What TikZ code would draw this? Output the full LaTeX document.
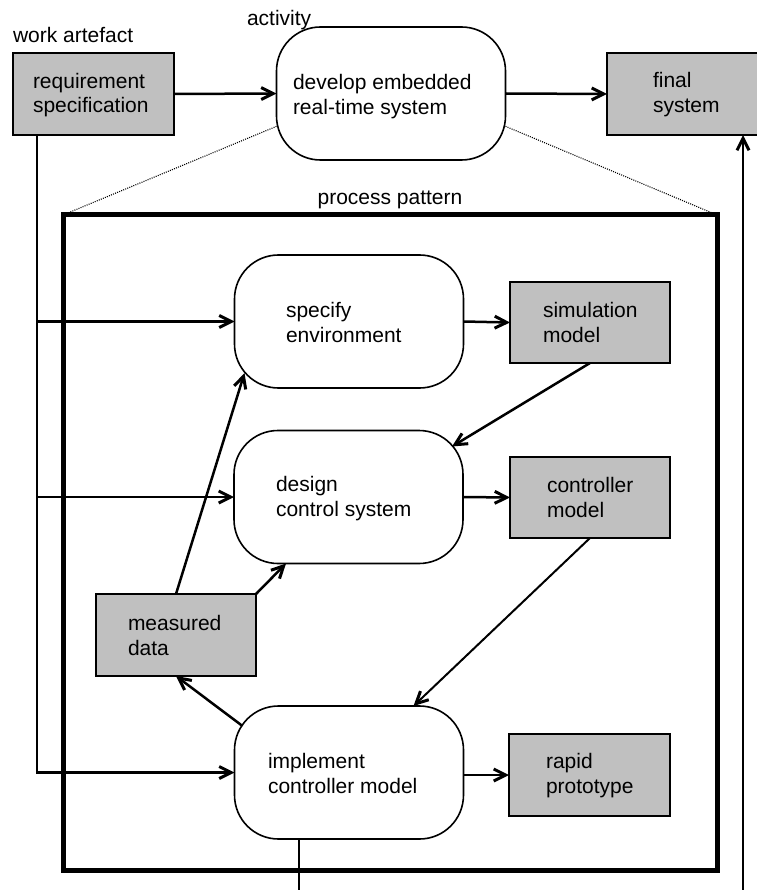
\documentclass[tikz,border=0pt]{standalone}
\usepackage{fontspec}
\setmainfont{Liberation Sans}
\usetikzlibrary{arrows.meta,calc}
\definecolor{boxgray}{RGB}{192,192,192}

\begin{document}
\begin{tikzpicture}[x=1pt,y=-1pt,
  every node/.style={font=\fontsize{21}{24.5}\selectfont, inner sep=0pt, outer sep=0pt},
  artefact/.style={draw, line width=1.6pt, fill=boxgray, minimum width=161pt, minimum height=82pt},
  activity/.style={draw, line width=1.6pt, fill=white, rounded corners=44pt,
                   minimum width=229pt, minimum height=133pt},
  txt/.style={anchor=west, align=left},
  flow/.style={line width=2.5pt, -{Straight Barb[length=12pt,width=12pt,line width=3pt]}},
  plain/.style={line width=2.2pt},
  zoomline/.style={line width=1.1pt, dash pattern=on 1pt off 1.2pt},
  framebox/.style={draw, line width=5pt, minimum width=654pt, minimum height=655pt}
]
\useasboundingbox (0,0) rectangle (756,890);

% overview level
\node[artefact] (req) at (93.5,94) {};
\node[txt] (reqT) at (33,95) {requirement\\specification};
\node[activity] (dev) at (391,93.5) {};
\node[txt] (devT) at (293,96.5) {develop embedded\\real-time system};
\node[artefact, minimum width=153pt] (fin) at (683.5,94) {};
\node[txt] (finT) at (653,94.5) {final\\system};

\node[anchor=west] (artLbl) at (13,35) {work artefact};
\node[anchor=west] (actLbl) at (247,20) {activity};

% refinement frame
\node[framebox] (frame) at (390,542.5) {};
\node (patLbl) at (390,200) {process pattern};
\draw[zoomline] (dev.196) -- (frame.north west);
\draw[zoomline] (dev.-16) -- (frame.north east);

% activities and artefacts inside the pattern
\node[activity] (spec) at (349,321.5) {};
\node[txt] (specT) at (286,322.5) {specify\\environment};
\node[artefact, minimum width=160pt, minimum height=81pt] (sim) at (590,322.5) {};
\node[txt] (simT) at (543,322.5) {simulation\\model};

\node[activity] (des) at (348.5,497) {};
\node[txt] (desT) at (276,498.5) {design\\control system};
\node[artefact, minimum width=160pt, minimum height=81pt] (ctl) at (590,497.5) {};
\node[txt] (ctlT) at (547,497.5) {controller\\model};

\node[artefact, minimum width=160pt] (meas) at (176,635) {};
\node[txt] (measT) at (128,635.5) {measured\\data};

\node[activity] (impl) at (349,772.5) {};
\node[txt] (implT) at (268,773.5) {implement\\controller model};
\node[artefact] (rap) at (589.5,775) {};
\node[txt] (rapT) at (546,775.5) {rapid\\prototype};

% top-level flow
\draw[flow] (req.east) -- (dev.west);
\draw[flow] (dev.east) -- (fin.west);

% requirement specification feeds every activity
\coordinate (busx) at (37,0);
\draw[flow] (req.south -| busx) -- (busx |- impl.west) -- (impl.west);
\draw[flow] (busx |- spec.west) -- (spec.west);
\draw[flow] (busx |- des.west) -- (des.west);

% flows inside the pattern
\draw[flow] (spec.east) -- (sim.west);
\draw[flow] (sim.south) -- ($(des.north east)+(-11,16)$);
\draw[flow] (des.east) -- (ctl.west);
\draw[flow, line width=2pt] (ctl.south) -- ($(impl.north east)+(-50,0)$);
\draw[flow] (impl.east |- rap.west) -- (rap.west);
\draw[flow] ($(impl.north west)+(8,20)$) -- (meas.south);
\draw[flow] (meas.north) -- ($(spec.south west)+(10,-15)$);
\draw[flow] (meas.north east) -- ($(des.south west)+(52,0)$);

% outputs leaving the pattern towards the final system
\coordinate (outL) at (299,890);
\coordinate (outR) at (743,890);
\draw[plain, line width=2pt] (outL |- impl.south) -- (outL);
\draw[flow, line width=2pt] (outR) -- (outR |- fin.south);
\end{tikzpicture}
\end{document}
